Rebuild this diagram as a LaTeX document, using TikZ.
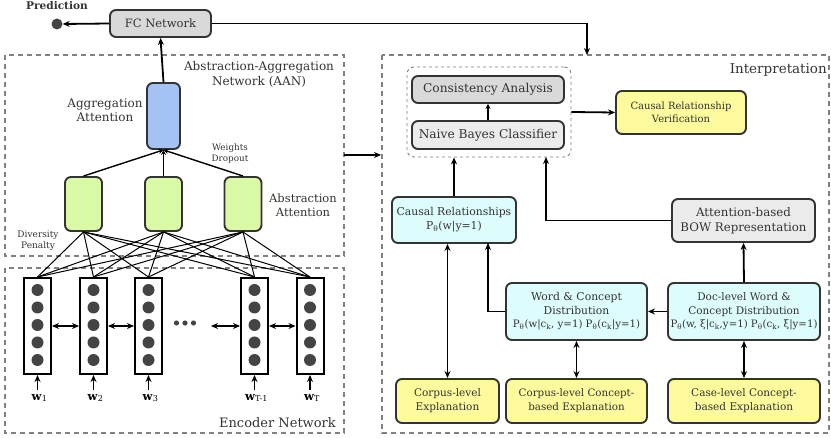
\documentclass[tikz,border=0pt]{standalone}
\usepackage{fontspec}
\setmainfont{DejaVu Serif}
\usetikzlibrary{arrows.meta}
\definecolor{edge}{HTML}{333333}
\definecolor{grayA}{HTML}{D9D9D9}
\definecolor{grayB}{HTML}{EBEBEB}
\definecolor{blueN}{HTML}{A4C2F4}
\definecolor{greenN}{HTML}{D9F9A6}
\definecolor{cyanN}{HTML}{DDFCFC}
\definecolor{yellowN}{HTML}{FCFA9C}
\definecolor{dashc}{HTML}{808080}
\definecolor{dotc}{HTML}{444444}
\newcommand{\fml}{\fontsize{10.2}{13}\selectfont}
\begin{document}
\begin{tikzpicture}[x=1pt,y=-1pt,
  box/.style={draw=edge, line width=1.9pt, rounded corners=6pt, align=center, inner sep=0pt, text=edge, font=\fontsize{10}{13}\selectfont},
  cell/.style={draw=black, line width=2pt, fill=white, minimum width=27pt, minimum height=96pt, inner sep=0pt},
  region/.style={draw=dashc, dash pattern=on 5pt off 4pt, line width=1.7pt},
  lbl/.style={align=center, inner sep=0pt, text=edge},
  arr/.style={-{Stealth[length=7pt,width=6pt]}, line width=1.8pt},
  darr/.style={{Stealth[length=7pt,width=6pt]}-{Stealth[length=7pt,width=6pt]}, line width=1.8pt},
  thinarr/.style={-{Stealth[length=5pt,width=5pt]}, line width=1.4pt},
  web/.style={line width=1pt}
]
\useasboundingbox (0,0) rectangle (831,438);

% regions
\draw[region] (5,55) rectangle (344,256);
\draw[region] (5,268) rectangle (344,433);
\draw[region] (382,55) rectangle (829,433);

% top
\node[lbl, font=\fontsize{10.6}{12}\selectfont\bfseries] (predtxt) at (57,6) {Prediction};
\node[circle, fill=dotc, minimum size=11pt, inner sep=0pt] (pred) at (57,24) {};
\node[box, fill=grayA, minimum width=101pt, minimum height=27pt, font=\fontsize{11.5}{13}\selectfont] (fc) at (160.5,23.5) {FC Network};
\draw[arr] (fc.west) -- (pred.east);
\coordinate (itop) at (587,55);
\draw[arr] (fc.east) -| (itop);

% AAN
\node[lbl, font=\fontsize{12}{15}\selectfont] (aantxt) at (259,74) {Abstraction-Aggregation\\Network (AAN)};
\node[box, fill=blueN, minimum width=33pt, minimum height=66pt] (agg) at (163.5,116) {};
\node[lbl, font=\fontsize{12}{14}\selectfont] (aggtxt) at (105,110) {Aggregation\\Attention};
\draw[arr] (agg.north) -- (fc.south);
\foreach \i/\x in {1/83.5,2/163.5,3/243}{
  \node[box, fill=greenN, minimum width=37pt, minimum height=54pt] (g\i) at (\x,204) {};
  \draw[thinarr] (g\i.north) -- (agg.south);
}
\node[lbl, font=\fontsize{8.8}{11}\selectfont] (wdtxt) at (230,154) {Weights\\Dropout};
\node[lbl, font=\fontsize{11.5}{14}\selectfont] (abtxt) at (303,205) {Abstraction\\Attention};
\node[lbl, font=\fontsize{9}{11}\selectfont] (dptxt) at (38,241) {Diversity\\Penalty};

% encoder
\foreach \j/\x/\s in {1/37.5/1,2/93.5/2,3/148.5/3,4/254.5/{T-1},5/310/T}{
  \node[cell] (e\j) at (\x,326) {};
  \foreach \cy in {290,307.5,325,342.5,360}{
    \fill[dotc] (\x,\cy) circle (6pt);
  }
  \node[lbl, font=\fontsize{11.5}{12}\selectfont, text=black] (w\j) at (\x+2,398) {\textbf{w}\textsubscript{\s}};
  \coordinate (wa\j) at (\x,390);
  \draw[arr] (wa\j) -- (e\j.south);
}
\foreach \i in {1,2,3}{
  \foreach \j in {1,...,5}{
    \draw[web] (g\i.south) -- (e\j.north);
  }
}
\draw[darr] (e1.east) -- (e2.west);
\draw[darr] (e2.east) -- (e3.west);
\draw[darr] (e4.east) -- (e5.west);
\coordinate (dl) at (211,326);
\draw[darr] (dl) -- (e4.west);
\foreach \dx in {176.5,185,193.5}{
  \fill[dotc] (\dx,323) circle (2.6pt);
}
\node[lbl, font=\fontsize{13}{15}\selectfont, anchor=east] (enctxt) at (336,423) {Encoder Network};

% between
\coordinate (b1) at (344,155);
\coordinate (b2) at (381,155);
\draw[arr] (b1) -- (b2);

% interpretation
\node[lbl, font=\fontsize{13.5}{15}\selectfont, anchor=east] (inttxt) at (827,70) {Interpretation};
\node[draw=dashc, dashed, line width=0.9pt, rounded corners=7pt, minimum width=164pt, minimum height=90pt, inner sep=0pt] (inner) at (489,112) {};
\node[box, fill=grayA, minimum width=152pt, minimum height=27pt, font=\fontsize{12.2}{14}\selectfont] (ca) at (488,89.5) {Consistency Analysis};
\node[box, fill=grayB, minimum width=152pt, minimum height=28pt, font=\fontsize{12.2}{14}\selectfont] (nb) at (488,135) {Naive Bayes Classifier};
\draw[thinarr] (nb.north) -- (ca.south);
\node[box, fill=yellowN, minimum width=130pt, minimum height=43pt] (crv) at (681,112.5) {Causal Relationship\\Verification};
\draw[arr] (inner.east) -- (crv.west);

\node[box, fill=cyanN, minimum width=124pt, minimum height=46pt, font=\fontsize{10.8}{14}\selectfont] (cr) at (454,220) {Causal Relationships\\P\textsubscript{θ}(w|y=1)};
\node[box, fill=grayB, minimum width=143pt, minimum height=43pt, font=\fontsize{11.8}{15}\selectfont] (bow) at (743.5,220.5) {Attention-based\\BOW Representation};
\node[box, fill=cyanN, minimum width=141pt, minimum height=57pt, font=\fontsize{10.8}{13.5}\selectfont] (wc) at (576.5,311.5) {Word \& Concept\\Distribution\\{\fml P\textsubscript{θ}(w|c\textsubscript{k}, y=1) P\textsubscript{θ}(c\textsubscript{k}|y=1)}};
\node[box, fill=cyanN, minimum width=152pt, minimum height=57pt, font=\fontsize{10.5}{13.5}\selectfont] (doc) at (744,311.5) {Doc-level Word \&\\Concept Distribution\\{\fml P\textsubscript{θ}(w, ξ|c\textsubscript{k},y=1) P\textsubscript{θ}(c\textsubscript{k}, ξ|y=1)}};
\node[box, fill=yellowN, minimum width=103pt, minimum height=44pt, font=\fontsize{10.5}{14}\selectfont] (ce) at (447.5,401) {Corpus-level\\Explanation};
\node[box, fill=yellowN, minimum width=141pt, minimum height=44pt, font=\fontsize{10.3}{14}\selectfont] (cce) at (576.5,401) {Corpus-level Concept-\\based Explanation};
\node[box, fill=yellowN, minimum width=152pt, minimum height=44pt, font=\fontsize{10.5}{14}\selectfont] (case) at (744,401) {Case-level Concept-\\based Explanation};

\draw[arr] (cr.north) -- (cr.north |- inner.south);
\coordinate (inB) at (546,157);
\draw[arr] (bow.west) -| (inB);
\draw[arr] (doc.north) -- (bow.south);
\draw[arr] (doc.west) -- (wc.east);
\coordinate (crB) at (488,243);
\draw[arr] (wc.west) -| (crB);
\draw[darr] (ce.north) -- (ce.north |- cr.south);
\draw[darr] (wc.south) -- (cce.north);
\draw[darr] (doc.south) -- (case.north);
\end{tikzpicture}
\end{document}
